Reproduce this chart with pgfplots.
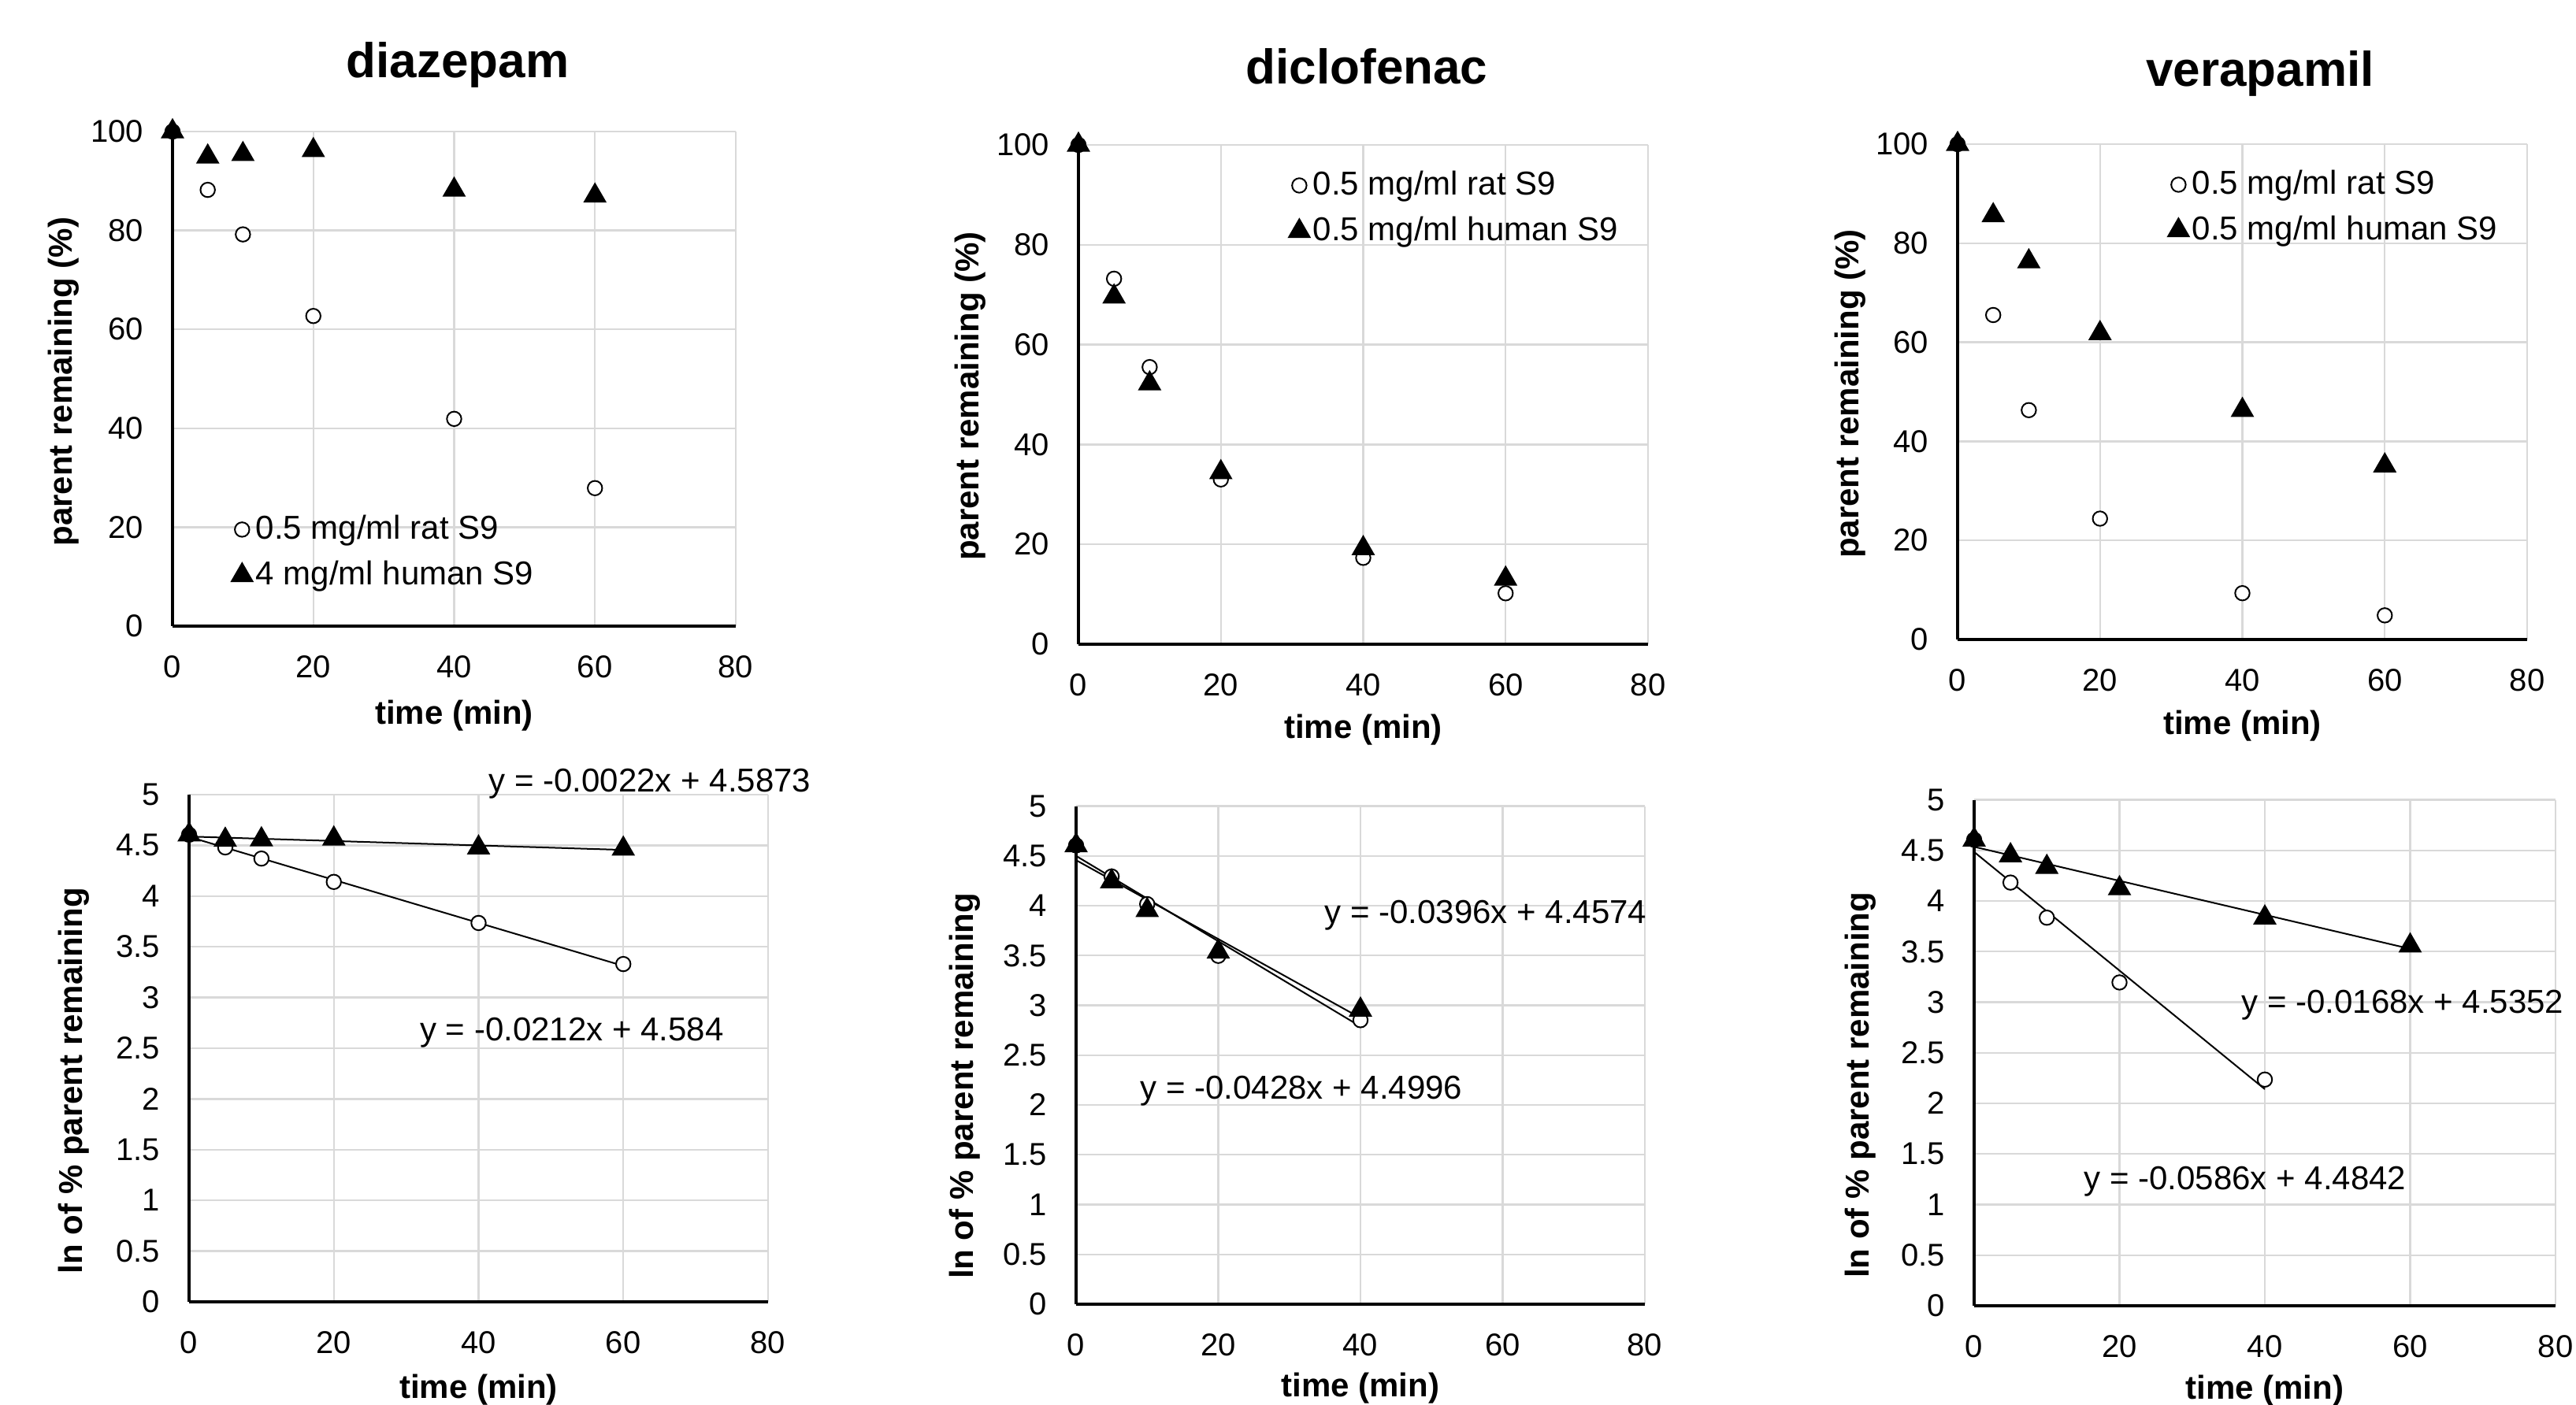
\documentclass[border=0pt]{standalone}
\usepackage{pgfplots}
\pgfplotsset{compat=1.18}
\usepackage{fontspec}
\setmainfont{Liberation Sans}
\begin{document}
\begin{tikzpicture}
\pgfplotsset{
  myax/.style={
    scale only axis,
    anchor=south west,
    axis x line*=bottom, axis y line*=left,
    axis line style={-, line width=1pt, black},
    x axis line style={-}, y axis line style={-},
    grid=major,
    major grid style={line width=0.6pt, color=black!15},
    major tick length=0pt,
    xmin=0, xmax=80, xtick={0,20,40,60,80},
    clip=false,
    /pgf/number format/assume math mode=true,
    ticklabel style={font=\fontsize{10}{12}\selectfont},
    xticklabel style={anchor=center, yshift=-13pt},
    yticklabel style={anchor=east, inner sep=0pt, xshift=-9pt},
    label style={font=\bfseries\fontsize{10.5}{12}\selectfont},
    legend style={draw=none, fill=none, inner sep=0pt, row sep=3.4pt,
      font=\fontsize{10.5}{12}\selectfont, nodes={inner sep=1pt}},
    legend cell align=left,
    legend image code/.code={\draw[##1] plot coordinates {(0pt,0pt)};},
    xlabel={time (min)},
  },
  topax/.style={myax, ymin=0, ymax=100, ytick={0,20,40,60,80,100}, ylabel={parent remaining (\%)}},
  botax/.style={myax, ymin=0, ymax=5, ytick={0,0.5,1,1.5,2,2.5,3,3.5,4,4.5,5}, ylabel={ln of \% parent remaining}},
  rat/.style={only marks, mark=*, mark size=2.3pt, mark options={fill=white, draw=black, line width=0.5pt}},
  human/.style={only marks, mark=triangle*, mark size=3.9pt, mark options={fill=black, draw=black}},
  fit/.style={no marks, black, line width=0.5pt, forget plot},
}
\useasboundingbox (0,0) rectangle (817.5pt,-446pt);

% ---------- diazepam top
\begin{axis}[topax, at={(54.75pt,-198.75pt)}, width=178.75pt, height=157pt,
  xlabel style={at={(axis description cs:0.5,-0.1815)}, anchor=center},
  ylabel style={at={(axis description cs:-0.194,0.494)}, anchor=center},
  legend style={at={(0.1035,0.149)}, anchor=west}]
\addplot[rat] coordinates {(0,100) (5,88.2) (10,79.2) (20,62.7) (40,41.9) (60,27.9)};
\addlegendentry{0.5 mg/ml rat S9}
\addplot[human] coordinates {(0,100) (5,94.9) (10,95.4) (20,96.2) (40,88.2) (60,87.0)};
\addlegendentry{4 mg/ml human S9}
\end{axis}

% ---------- diclofenac top
\begin{axis}[topax, at={(342.25pt,-204.5pt)}, width=180.75pt, height=158.5pt,
  xlabel style={at={(axis description cs:0.5,-0.172)}, anchor=center},
  ylabel style={at={(axis description cs:-0.1895,0.497)}, anchor=center},
  legend style={at={(0.368,0.873)}, anchor=west}]
\addplot[rat] coordinates {(0,100) (5,73.2) (10,55.5) (20,33.0) (40,17.3) (60,10.2)};
\addlegendentry{0.5 mg/ml rat S9}
\addplot[human] coordinates {(0,100) (5,69.6) (10,52.2) (20,34.4) (40,19.2) (60,13.1)};
\addlegendentry{0.5 mg/ml human S9}
\end{axis}

% ---------- verapamil top
\begin{axis}[topax, at={(621.25pt,-203pt)}, width=180.75pt, height=157.25pt,
  xlabel style={at={(axis description cs:0.5,-0.175)}, anchor=center},
  ylabel style={at={(axis description cs:-0.188,0.496)}, anchor=center},
  legend style={at={(0.368,0.872)}, anchor=west}]
\addplot[rat] coordinates {(0,100) (5,65.5) (10,46.3) (20,24.4) (40,9.35) (60,4.87)};
\addlegendentry{0.5 mg/ml rat S9}
\addplot[human] coordinates {(0,100) (5,85.6) (10,76.3) (20,61.8) (40,46.3) (60,35.1)};
\addlegendentry{0.5 mg/ml human S9}
\end{axis}

% ---------- diazepam bottom
\begin{axis}[botax, at={(60pt,-413.25pt)}, width=183.75pt, height=161pt,
  xlabel style={at={(axis description cs:0.5,-0.174)}, anchor=center},
  ylabel style={at={(axis description cs:-0.1986,0.436)}, anchor=center}]
\addplot[rat] coordinates {(0,4.605) (5,4.48) (10,4.37) (20,4.14) (40,3.735) (60,3.33)};
\addplot[human] coordinates {(0,4.605) (5,4.554) (10,4.558) (20,4.566) (40,4.477) (60,4.466)};
\addplot[fit] coordinates {(0,4.584) (60,3.312)};
\addplot[fit] coordinates {(0,4.5873) (60,4.4553)};
\end{axis}

% ---------- diclofenac bottom
\begin{axis}[botax, at={(341.5pt,-414pt)}, width=180.5pt, height=158.125pt,
  xlabel style={at={(axis description cs:0.5,-0.168)}, anchor=center},
  ylabel style={at={(axis description cs:-0.195,0.438)}, anchor=center}]
\addplot[rat] coordinates {(0,4.605) (5,4.293) (10,4.016) (20,3.497) (40,2.851)};
\addplot[human] coordinates {(0,4.605) (5,4.243) (10,3.955) (20,3.538) (40,2.955)};
\addplot[fit] coordinates {(0,4.4996) (40,2.7876)};
\addplot[fit] coordinates {(0,4.4574) (40,2.8734)};
\end{axis}

% ---------- verapamil bottom
\begin{axis}[botax, at={(626.5pt,-414.5pt)}, width=184.5pt, height=160.625pt,
  xlabel style={at={(axis description cs:0.5,-0.168)}, anchor=center},
  ylabel style={at={(axis description cs:-0.195,0.436)}, anchor=center}]
\addplot[rat] coordinates {(0,4.605) (5,4.182) (10,3.835) (20,3.195) (40,2.235)};
\addplot[human] coordinates {(0,4.605) (5,4.450) (10,4.335) (20,4.124) (40,3.835) (60,3.558)};
\addplot[fit] coordinates {(0,4.4842) (40,2.1402)};
\addplot[fit] coordinates {(0,4.5352) (60,3.5272)};
\end{axis}

% titles
\node[anchor=base, font=\bfseries\fontsize{15.5}{18}\selectfont] at (145.25pt,-24.75pt) {diazepam};
\node[anchor=base, font=\bfseries\fontsize{15.5}{18}\selectfont] at (433.75pt,-26.75pt) {diclofenac};
\node[anchor=base, font=\bfseries\fontsize{15.5}{18}\selectfont] at (717.25pt,-27.5pt) {verapamil};

% trendline equations
\begin{scope}[every node/.style={font=\fontsize{10.5}{12}\selectfont, inner sep=0pt}]
\node at (206.25pt,-248.75pt) {y = -0.0022x + 4.5873};
\node at (181.5pt,-327.75pt) {y = -0.0212x + 4.584};
\node at (471.5pt,-290.5pt) {y = -0.0396x + 4.4574};
\node at (413pt,-346.25pt) {y = -0.0428x + 4.4996};
\node at (762.5pt,-319pt) {y = -0.0168x + 4.5352};
\node at (712.5pt,-375pt) {y = -0.0586x + 4.4842};
\end{scope}
\end{tikzpicture}
\end{document}
